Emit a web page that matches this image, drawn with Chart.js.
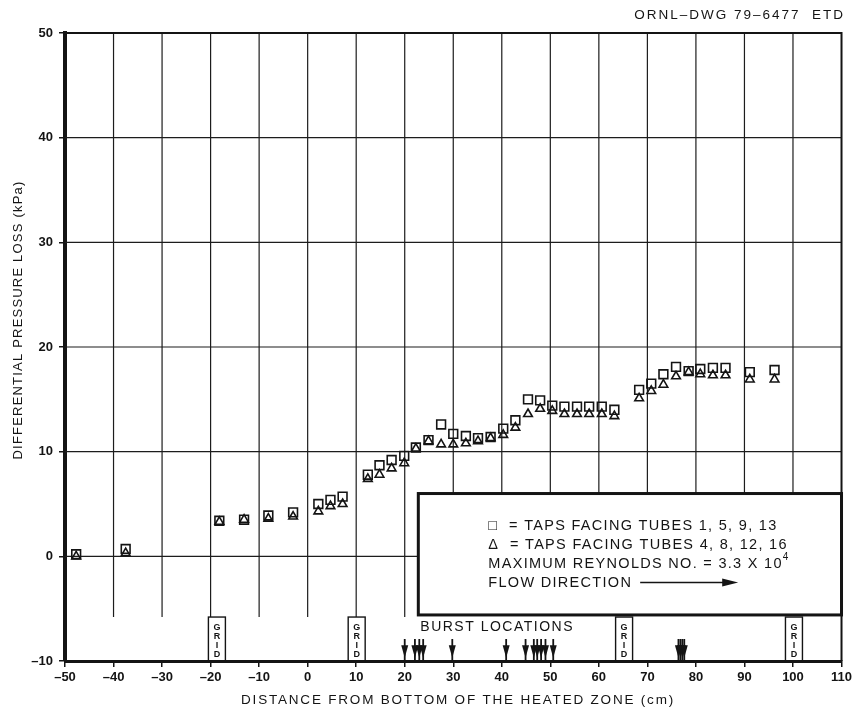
<!DOCTYPE html>
<html>
<head>
<meta charset="utf-8">
<script src="https://cdn.jsdelivr.net/npm/chart.js@4.4.1/dist/chart.umd.min.js"></script>
<style>
  html, body { margin: 0; padding: 0; background: #ffffff; }
  #wrap { width: 855px; height: 713px; position: relative; }
</style>
</head>
<body>
<div id="wrap"><canvas id="c"></canvas></div>
<script>
// Pressure-tap stations along the bundle (cm from bottom of heated zone)
const tapPositions = [-47.7, -37.5, -18.2, -13.1, -8.1, -3.0, 2.2, 4.7, 7.2, 12.4, 14.8, 17.3, 19.9,
  22.3, 24.9, 27.5, 30.0, 32.6, 35.1, 37.7, 40.3, 42.8, 45.4, 47.9, 50.4, 52.9, 55.5, 58.0, 60.6,
  63.2, 68.3, 70.8, 73.3, 75.9, 78.5, 80.9, 83.5, 86.1, 91.1, 96.2];

// Taps facing tubes 1, 5, 9, 13 (kPa)
const lossTubes1_5_9_13 = [0.2, 0.7, 3.4, 3.5, 3.9, 4.2, 5.0, 5.4, 5.7, 7.8, 8.7, 9.2, 9.6,
  10.4, 11.1, 12.6, 11.7, 11.5, 11.3, 11.4, 12.2, 13.0, 15.0, 14.9, 14.4, 14.3, 14.3, 14.3, 14.3,
  14.0, 15.9, 16.5, 17.4, 18.1, 17.7, 17.9, 18.0, 18.0, 17.6, 17.8];

// Taps facing tubes 4, 8, 12, 16 (kPa)
const lossTubes4_8_12_16 = [0.0, 0.3, 3.3, 3.5, 3.6, 3.8, 4.3, 4.8, 5.0, 7.4, 7.8, 8.4, 8.9,
  10.3, 11.0, 10.7, 10.7, 10.8, 11.0, 11.3, 11.6, 12.3, 13.6, 14.1, 13.9, 13.6, 13.6, 13.6, 13.6,
  13.4, 15.1, 15.8, 16.4, 17.2, 17.6, 17.4, 17.3, 17.3, 16.9, 16.9];

// Axial locations of the cladding bursts (cm)
const burstLocations = [20.0, 22.1, 23.0, 23.8, 29.8, 40.9, 44.9, 46.6, 47.3, 48.1, 49.0, 50.6,
  76.4, 76.8, 77.2, 77.6];

// Spacer grid centres (cm)
const gridSpacers = [-18.7, 10.1, 65.2, 100.2];

// Axis ticks
const xTicks = [-50, -40, -30, -20, -10, 0, 10, 20, 30, 40, 50, 60, 70, 80, 90, 100, 110];
const yTicks = [-10, 0, 10, 20, 30, 40, 50];

const INK = '#141414';
const SANS = '"Liberation Sans", Arial, Helvetica, sans-serif';

const toPoints = (ys) => tapPositions.map((x, i) => ({ x: x, y: ys[i] }));
const dash = (v) => String(v).replace('-', '\u2013');

function setSpacing(ctx, px) {
  if ('letterSpacing' in ctx) ctx.letterSpacing = px + 'px';
}

const annotations = {
  id: 'annotations',
  beforeDatasetsDraw(chart) {
    const { ctx, chartArea: a, scales: { x, y } } = chart;
    const X = (v) => x.getPixelForValue(v);
    const Y = (v) => y.getPixelForValue(v);

    // legend box extent, in data units
    const boxLeft = 22.8, boxTop = 6.0, boxBottom = -5.6;
    const gridTop = -5.8;

    ctx.save();
    ctx.strokeStyle = '#1c1c1c';
    ctx.lineWidth = 1.2;

    // horizontal rules
    [10, 20, 30, 40].forEach(v => {
      ctx.beginPath(); ctx.moveTo(a.left, Y(v)); ctx.lineTo(a.right, Y(v)); ctx.stroke();
    });
    ctx.beginPath(); ctx.moveTo(a.left, Y(0)); ctx.lineTo(X(boxLeft), Y(0)); ctx.stroke();

    // vertical rules
    xTicks.filter(v => v > -50 && v < 110).forEach(v => {
      const end = v > boxLeft ? boxTop : gridTop;
      ctx.beginPath(); ctx.moveTo(X(v), a.top); ctx.lineTo(X(v), Y(end)); ctx.stroke();
    });

    // spacer grid markers
    gridSpacers.forEach(c => {
      const l = X(c - 1.75), r = X(c + 1.75);
      const t = Y(gridTop), b = Y(-10);
      ctx.lineWidth = 1.4;
      ctx.strokeStyle = INK;
      ctx.strokeRect(l, t, r - l, b - t);
      ctx.fillStyle = INK;
      ctx.font = 'bold 9px ' + SANS;
      ctx.textAlign = 'center';
      ctx.textBaseline = 'middle';
      ['G', 'R', 'I', 'D'].forEach((ch, i) => ctx.fillText(ch, (l + r) / 2, t + 10 + i * 9));
    });

    // burst location arrows
    ctx.fillStyle = INK;
    ctx.strokeStyle = INK;
    burstLocations.forEach(v => {
      const px = X(v);
      ctx.lineWidth = 1.8;
      ctx.beginPath(); ctx.moveTo(px, Y(-7.9)); ctx.lineTo(px, Y(-10)); ctx.stroke();
      ctx.beginPath();
      ctx.moveTo(px - 3.5, Y(-8.5));
      ctx.lineTo(px + 3.5, Y(-8.5));
      ctx.lineTo(px, Y(-9.7));
      ctx.closePath();
      ctx.fill();
    });

    ctx.font = '14px ' + SANS;
    setSpacing(ctx, 1.5);
    ctx.textAlign = 'left';
    ctx.textBaseline = 'middle';
    ctx.fillText('BURST LOCATIONS', X(boxLeft) + 2, Y(-6.75));
    setSpacing(ctx, 0);

    // legend / notes box
    const bl = X(boxLeft), bt = Y(boxTop), br = a.right, bb = Y(boxBottom);
    ctx.fillStyle = '#ffffff';
    ctx.fillRect(bl, bt, br - bl, bb - bt);
    ctx.lineWidth = 3;
    ctx.strokeStyle = INK;
    ctx.strokeRect(bl, bt, br - bl, bb - bt);

    ctx.fillStyle = INK;
    ctx.font = '14.5px ' + SANS;
    setSpacing(ctx, 1.3);
    const tx = bl + 70;
    ctx.fillText('\u25A1  = TAPS FACING TUBES 1, 5, 9, 13', tx, bt + 32);
    ctx.fillText('\u0394  = TAPS FACING TUBES 4, 8, 12, 16', tx, bt + 51);
    const base = 'MAXIMUM REYNOLDS NO. = 3.3 X 10';
    ctx.fillText(base, tx, bt + 70);
    const w = ctx.measureText(base).width;
    ctx.font = '10px ' + SANS;
    ctx.fillText('4', tx + w, bt + 64);
    ctx.font = '14.5px ' + SANS;
    const flow = 'FLOW DIRECTION';
    ctx.fillText(flow, tx, bt + 89);
    const fw = ctx.measureText(flow).width;
    setSpacing(ctx, 0);
    const ax0 = tx + fw + 8, ax1 = ax0 + 98, ay = bt + 89;
    ctx.lineWidth = 1.6;
    ctx.beginPath(); ctx.moveTo(ax0, ay); ctx.lineTo(ax1 - 12, ay); ctx.stroke();
    ctx.beginPath();
    ctx.moveTo(ax1, ay); ctx.lineTo(ax1 - 16, ay - 4); ctx.lineTo(ax1 - 16, ay + 4); ctx.closePath();
    ctx.fill();
    ctx.restore();
  },
  afterDraw(chart) {
    const { ctx, chartArea: a } = chart;
    ctx.save();
    ctx.strokeStyle = INK;
    ctx.lineWidth = 2;
    ctx.beginPath();
    ctx.moveTo(a.left, a.top); ctx.lineTo(a.right, a.top); ctx.lineTo(a.right, a.bottom);
    ctx.stroke();

    ctx.fillStyle = INK;
    ctx.font = '13.5px ' + SANS;
    setSpacing(ctx, 2);
    ctx.textAlign = 'right';
    ctx.textBaseline = 'middle';
    ctx.fillText('ORNL\u2013DWG 79\u20136477  ETD', 845, 15);

    ctx.textAlign = 'center';
    ctx.font = '13.5px ' + SANS;
    setSpacing(ctx, 1.8);
    ctx.fillText('DISTANCE FROM BOTTOM OF THE HEATED ZONE (cm)', 458, 700);

    ctx.translate(18, 320);
    ctx.rotate(-Math.PI / 2);
    ctx.font = '13px ' + SANS;
    setSpacing(ctx, 1.2);
    ctx.fillText('DIFFERENTIAL PRESSURE LOSS (kPa)', 0, 0);
    ctx.restore();
  }
};

new Chart(document.getElementById('c'), {
  type: 'scatter',
  data: {
    datasets: [
      {
        label: 'Taps facing tubes 1, 5, 9, 13',
        data: toPoints(lossTubes1_5_9_13),
        pointStyle: 'rect',
        pointRadius: 6.2,
        pointBorderWidth: 1.6,
        borderColor: INK,
        backgroundColor: 'rgba(0,0,0,0)'
      },
      {
        label: 'Taps facing tubes 4, 8, 12, 16',
        data: toPoints(lossTubes4_8_12_16),
        pointStyle: 'triangle',
        pointRadius: 5,
        pointBorderWidth: 1.6,
        borderColor: INK,
        backgroundColor: 'rgba(0,0,0,0)'
      }
    ]
  },
  options: {
    responsive: true,
    maintainAspectRatio: false,
    animation: false,
    layout: { padding: { top: 33, right: 10, left: 0, bottom: 0 } },
    plugins: { legend: { display: false }, tooltip: { enabled: false } },
    scales: {
      x: {
        type: 'linear',
        min: xTicks[0],
        max: xTicks[xTicks.length - 1],
        afterBuildTicks: (s) => { s.ticks = xTicks.map(v => ({ value: v })); },
        afterFit: (s) => { s.height = 52; },
        ticks: {
          callback: dash,
          color: INK,
          font: { family: SANS, size: 13, weight: 'bold' },
          padding: 3,
          maxRotation: 0
        },
        grid: { drawOnChartArea: false, drawTicks: true, tickLength: 6, color: INK, lineWidth: 1.5 },
        border: { display: true, color: INK, width: 3 }
      },
      y: {
        type: 'linear',
        min: yTicks[0],
        max: yTicks[yTicks.length - 1],
        afterBuildTicks: (s) => { s.ticks = yTicks.map(v => ({ value: v })); },
        afterFit: (s) => { s.width = 65; },
        ticks: {
          callback: dash,
          color: INK,
          font: { family: SANS, size: 13, weight: 'bold' },
          padding: 6
        },
        grid: { drawOnChartArea: false, drawTicks: true, tickLength: 6, color: INK, lineWidth: 1.5 },
        border: { display: true, color: INK, width: 4 }
      }
    }
  },
  plugins: [annotations]
});
</script>
</body>
</html>
